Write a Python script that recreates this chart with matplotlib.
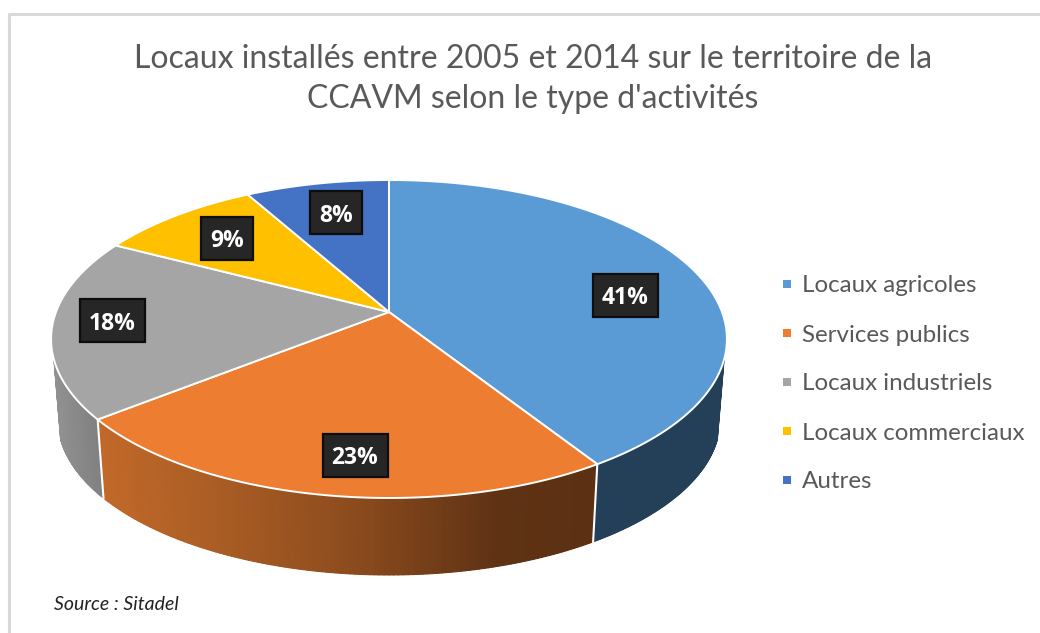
import numpy as np
import matplotlib
matplotlib.use("Agg")
import matplotlib.pyplot as plt
from matplotlib.collections import PolyCollection
from matplotlib.patches import Rectangle

plt.rcParams["font.family"] = ["Lato", "DejaVu Sans"]

title = "Locaux installés entre 2005 et 2014 sur le territoire de la\nCCAVM selon le type d'activités"
source = "Source : Sitadel"
categories = ["Locaux agricoles", "Services publics", "Locaux industriels", "Locaux commerciaux", "Autres"]
shares = [41.0, 23.3, 18.4, 9.2, 8.1]
colors = ["#5b9bd5", "#ed7d31", "#a5a5a5", "#ffc000", "#4472c4"]
label_xy = [(625.5, 295.5), (355, 455.5), (112, 320.5), (227, 238), (336, 212.5)]

# pie geometry in pixels, the disc is seen in perspective
cx, cy = 389.0, 312.0
A, B, k = 333.0, 154.4, 0.1698
shrink, depth = 0.98, 80.7
wall_start, wall_end = 107.0, 253.0


def top_rim(theta):
    # theta in degrees, clockwise from 12 o'clock
    t = np.radians(theta)
    w = 1 + k * np.cos(t)
    return cx + A * np.sin(t) / w, cy - B * np.cos(t) / w


def low_rim(theta):
    x, y = top_rim(theta)
    return cx + (x - cx) * shrink, cy + depth + (y - cy) * shrink


def blend(x, xs, hexes):
    rgb = np.array([matplotlib.colors.to_rgb(c) for c in hexes])
    return tuple(np.interp(x, xs, rgb[:, n]) for n in range(3))


def wall_color(i, x):
    # side walls, only the orange one has a visible gradient
    if i == 0:
        return blend(x, [590, 730], ["#243f58", "#243f58"])
    if i == 1:
        return blend(x, [97, 200, 340, 500, 600], ["#c2692a", "#ad5f25", "#8f4d1e", "#5f3214", "#5c3012"])
    return blend(x, [50, 100], ["#929292", "#7f7f7f"])


fig = plt.figure(figsize=(10.4, 6.33), dpi=100)
ax = fig.add_axes([0, 0, 1, 1])
ax.set_xlim(0, 1040)
ax.set_ylim(633, 0)
ax.axis("off")

# chart frame, open at the right and the bottom
ax.plot([8.5, 8.5, 1040], [633, 13.5, 13.5], color="#d9d9d9", lw=2.2, zorder=1)

edges = np.concatenate([[0], np.cumsum(shares)]) * 3.6

# walls first
for i in range(len(shares)):
    a0 = max(edges[i], wall_start)
    a1 = min(edges[i + 1], wall_end)
    if a1 <= a0:
        continue
    th = np.linspace(a0, a1, 120)
    xt, yt = top_rim(th)
    xl, yl = low_rim(th)
    # solid base under the strips so no seams show through
    ax.fill(np.r_[xt, xl[::-1]], np.r_[yt, yl[::-1]], color=wall_color(i, xt.mean()), lw=0, zorder=2)
    polys = []
    cols = []
    for n in range(len(th) - 1):
        polys.append([(xt[n], yt[n]), (xt[n + 1], yt[n + 1]), (xl[n + 1], yl[n + 1]), (xl[n], yl[n])])
        cols.append(wall_color(i, (xt[n] + xt[n + 1]) / 2))
    ax.add_collection(PolyCollection(polys, facecolors=cols, edgecolors=cols, linewidths=0.8, zorder=2))

# white seams between the walls
for e in edges[1:-1]:
    if wall_start < e < wall_end:
        x0, y0 = top_rim(e)
        x1, y1 = low_rim(e)
        ax.plot([x0, x1], [y0, y1], color="white", lw=1.5, zorder=3)

# top face
for i in range(len(shares)):
    th = np.linspace(edges[i], edges[i + 1], 200)
    x, y = top_rim(th)
    ax.fill(np.r_[cx, x], np.r_[cy, y], facecolor=colors[i], edgecolor="white", lw=1.4, zorder=4, joinstyle="round")

# percentage labels
for s, (lx, ly) in zip(shares, label_xy):
    txt = f"{round(s)}%"
    bw = 65 if len(txt) == 3 else 52
    ax.add_patch(Rectangle((lx - bw / 2, ly - 21.5), bw, 43, facecolor="#262626", edgecolor="#0d0d0d", lw=1.6, zorder=6))
    ax.text(lx, ly, txt, color="white", fontsize=16.5, fontweight="bold", ha="center", va="center_baseline",
            family=["Open Sans", "DejaVu Sans"], zorder=7)

# legend
legend_y = [284, 333, 382, 431, 480]
for name, c, ly in zip(categories, colors, legend_y):
    ax.scatter([787], [ly], marker="s", s=36, color=c, linewidths=0, zorder=5)
    ax.text(802, ly, name, color="#595959", fontsize=17.4, ha="left", va="center_baseline", zorder=5)

ax.text(533, 79, title, color="#595959", fontsize=23.05, ha="center", va="center", linespacing=1.45, zorder=5)
ax.text(54, 604, source, color="#222222", fontsize=14, fontstyle="italic", ha="left", va="center", zorder=5)

fig.savefig("out.png", dpi=100)
